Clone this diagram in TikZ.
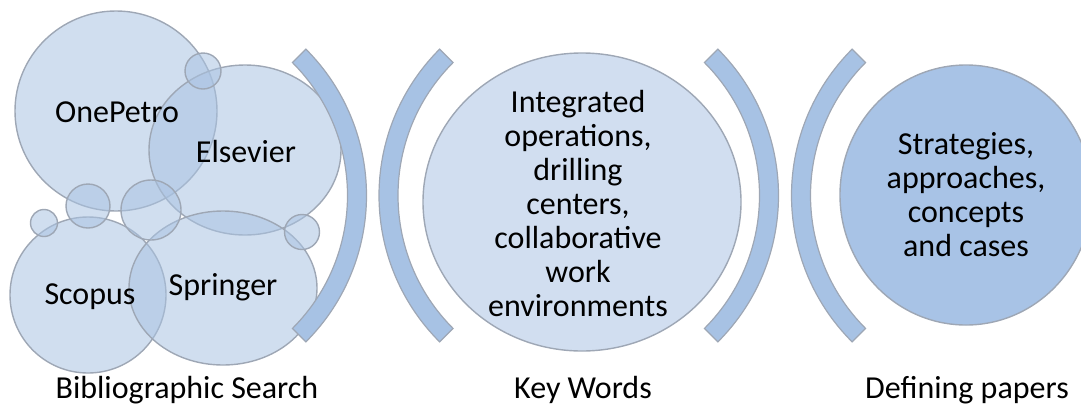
\documentclass[tikz,border=0pt]{standalone}
\usepackage{fontspec}
\setmainfont{Carlito}
\usepackage{tikz}
\usetikzlibrary{shapes.geometric}
\definecolor{bubblebase}{RGB}{170,195,226}
\definecolor{ringline}{RGB}{158,167,181}
\definecolor{bracketblue}{RGB}{167,194,228}
\definecolor{keypale}{RGB}{209,222,240}
\definecolor{defblue}{RGB}{168,195,230}

\begin{document}
\begin{tikzpicture}[
      x=1pt, y=-1pt,
      font=\fontsize{32}{34}\selectfont,
      src/.style={ellipse, draw=ringline, line width=1.4pt, fill=bubblebase, fill opacity=0.55, inner sep=0pt},
      bub/.style={src, circle},
      stage/.style={ellipse, draw=ringline, line width=1.4pt, inner sep=0pt},
      bracket/.style={draw=ringline, line width=1.2pt, fill=bracketblue},
      txt/.style={inner sep=0pt, align=center},
      lbl/.style={inner sep=0pt, anchor=base}
    ]
    \useasboundingbox (0,0) rectangle (1081,405);

    % ---- search sources: overlapping see-through discs ----
    \node[src, minimum width=202, minimum height=200] (onepetro) at (116,111) {};
    \node[src, minimum width=192, minimum height=170] (elsevier) at (245,150) {};
    \node[src, minimum width=156, minimum height=156] (scopus) at (88,295) {};
    \node[src, minimum width=188, minimum height=154] (springer) at (223,288) {};
    % small bubbles in the gaps
    \node[bub, minimum size=36] (b1) at (203,71) {};
    \node[bub, minimum size=44] (b2) at (88,206) {};
    \node[bub, minimum size=27] (b3) at (44,223) {};
    \node[bub, minimum size=60] (b4) at (151,210) {};
    \node[bub, minimum size=35] (b5) at (302,232) {};

    \node[txt] (onepetrotxt) at (117,112) {OnePetro};
    \node[txt] (elseviertxt) at (246,152) {Elsevier};
    \node[txt] (scopustxt) at (90,297) {Scopus};
    \node[txt] (springertxt) at (223,287) {Springer};

    % ---- brackets: ring sectors of 90 deg, r = 188..207 ----
    \foreach \cx/\a in {159.5/0, 586/180, 571.5/0, 998.5/180} {
      \draw[bracket] (\cx,195.5) ++({\a-45}:207)
        arc[start angle={\a-45}, end angle={\a+45}, radius=207]
        -- ++({\a+225}:19)
        arc[start angle={\a+45}, end angle={\a-45}, radius=188] -- cycle;
    }

    % ---- key words and defining papers ----
    \node[stage, fill=keypale, minimum width=318, minimum height=298] (keyw) at (582,202) {};
    \node[txt] (keywtxt) at (578,204)
      {Integrated\\operations,\\drilling\\centers,\\collaborative\\work\\environments};
    \node[stage, fill=defblue, minimum width=252, minimum height=260] (defn) at (966,195) {};
    \node[txt] (defntxt) at (966,195) {Strategies,\\approaches,\\concepts\\and cases};

    % ---- stage captions ----
    \node[lbl] (searchlbl) at (187,398) {Bibliographic Search};
    \node[lbl] (keylbl) at (583,398) {Key Words};
    \node[lbl] (deflbl) at (967,398) {Defining papers};
  \end{tikzpicture}
\end{document}
